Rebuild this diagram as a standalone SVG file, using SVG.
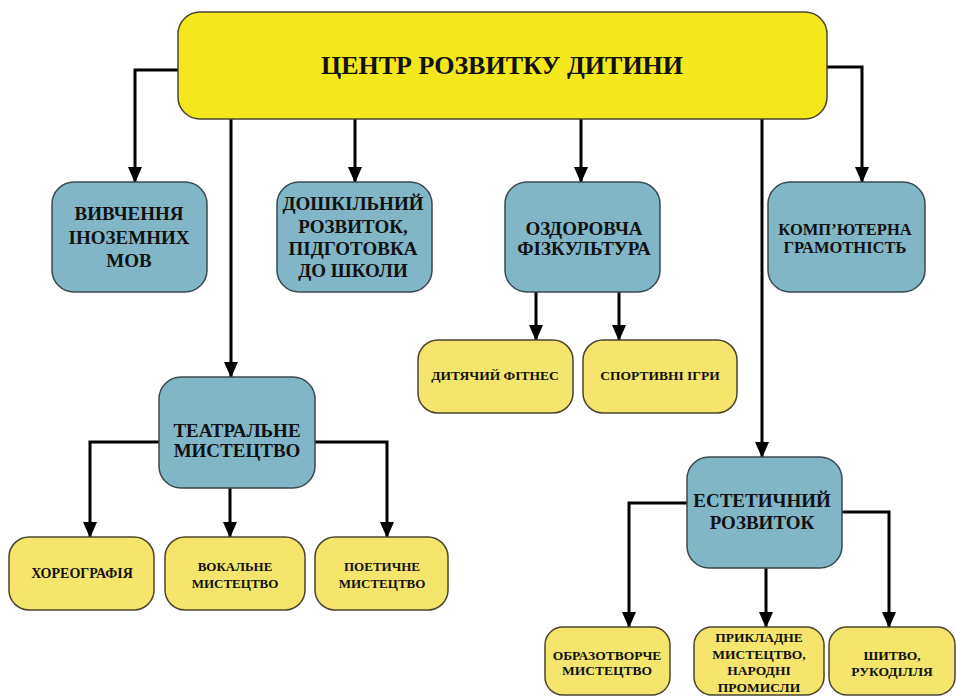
<svg xmlns="http://www.w3.org/2000/svg" width="956" height="697" viewBox="0 0 956 697">
<style>
.main{fill:#f4e81c;stroke:#4a4530;stroke-width:1.5}
.blue{fill:#80b6c6;stroke:#3a4a4e;stroke-width:1.5}
.yel{fill:#f6e56c;stroke:#4a4530;stroke-width:1.5}
text{font-family:'Liberation Serif','Times New Roman','DejaVu Serif',serif;font-weight:700;fill:#111;text-anchor:middle}
.t1{font-size:26px}
.t2{font-size:19px}
.t3{font-size:16.5px}
.t4{font-size:13px}
.t5{font-size:13.5px}
.t6{font-size:14px}
.con{fill:none;stroke:#000;stroke-width:3;marker-end:url(#ah)}
</style>
<defs>
<marker id="ah" viewBox="0 0 16 14" refX="15" refY="7" markerWidth="16" markerHeight="14" markerUnits="userSpaceOnUse" orient="auto">
<path d="M0,0 L16,7 L0,14 z" fill="#000"/>
</marker>
</defs>
<rect width="956" height="697" fill="#fff"/>
<g id="connectors">
<path class="con" d="M178,70 H135 V182"/>
<path class="con" d="M231,119 V377"/>
<path class="con" d="M355,119 V182"/>
<path class="con" d="M581,119 V182"/>
<path class="con" d="M762,119 V457"/>
<path class="con" d="M827,67 H862 V182"/>
<path class="con" d="M536,292 V340"/>
<path class="con" d="M619,292 V340"/>
<path class="con" d="M159,442 H90 V537"/>
<path class="con" d="M230,488 V537"/>
<path class="con" d="M315,442 H387 V537"/>
<path class="con" d="M687,503 H629 V627"/>
<path class="con" d="M766,568 V627"/>
<path class="con" d="M842,512 H889 V627"/>
</g>
<g id="center">
<rect class="main" x="178" y="12" width="649" height="107" rx="22"/>
<text class="t1" x="502" y="74">ЦЕНТР РОЗВИТКУ ДИТИНИ</text>
</g>
<g id="languages">
<rect class="blue" x="52" y="182" width="155" height="110" rx="22"/>
<text class="t2" x="129" y="219.5">ВИВЧЕННЯ</text>
<text class="t2" x="129" y="243.5">ІНОЗЕМНИХ</text>
<text class="t2" x="129" y="266.5">МОВ</text>
</g>
<g id="preschool">
<rect class="blue" x="277" y="182" width="155" height="110" rx="22"/>
<text class="t2" x="353" y="209.5">ДОШКІЛЬНИЙ</text>
<text class="t2" x="353" y="232.5">РОЗВИТОК,</text>
<text class="t2" x="353" y="254.5">ПІДГОТОВКА</text>
<text class="t2" x="353" y="276.5">ДО ШКОЛИ</text>
</g>
<g id="health">
<rect class="blue" x="505" y="182" width="155" height="110" rx="22"/>
<text class="t2" x="584" y="234.5">ОЗДОРОВЧА</text>
<text class="t2" x="584" y="255">ФІЗКУЛЬТУРА</text>
</g>
<g id="computer">
<rect class="blue" x="768" y="182" width="157" height="110" rx="22"/>
<text class="t3" x="845" y="234.5">КОМП’ЮТЕРНА</text>
<text class="t3" x="845" y="253">ГРАМОТНІСТЬ</text>
</g>
<g id="fitness">
<rect class="yel" x="418" y="340" width="155" height="73" rx="20"/>
<text class="t5" x="495" y="380">ДИТЯЧИЙ ФІТНЕС</text>
</g>
<g id="sportgames">
<rect class="yel" x="583" y="340" width="154" height="73" rx="20"/>
<text class="t5" x="660" y="380">СПОРТИВНІ ІГРИ</text>
</g>
<g id="theatre">
<rect class="blue" x="159" y="377" width="156" height="111" rx="22"/>
<text class="t2" x="237" y="437">ТЕАТРАЛЬНЕ</text>
<text class="t2" x="237" y="457">МИСТЕЦТВО</text>
</g>
<g id="choreography">
<rect class="yel" x="9" y="537" width="145" height="73" rx="20"/>
<text class="t6" x="82" y="578">ХОРЕОГРАФІЯ</text>
</g>
<g id="vocal">
<rect class="yel" x="165" y="537" width="140" height="73" rx="20"/>
<text class="t4" x="235" y="570.5">ВОКАЛЬНЕ</text>
<text class="t4" x="235" y="587.5">МИСТЕЦТВО</text>
</g>
<g id="poetry">
<rect class="yel" x="315" y="537" width="133" height="73" rx="20"/>
<text class="t4" x="382" y="570.5">ПОЕТИЧНЕ</text>
<text class="t4" x="382" y="587.5">МИСТЕЦТВО</text>
</g>
<g id="aesthetic">
<rect class="blue" x="687" y="457" width="155" height="111" rx="22"/>
<text class="t2" x="762" y="507">ЕСТЕТИЧНИЙ</text>
<text class="t2" x="762" y="529">РОЗВИТОК</text>
</g>
<g id="fineart">
<rect class="yel" x="545" y="627" width="125" height="68" rx="18"/>
<text class="t5" x="607" y="659.5">ОБРАЗОТВОРЧЕ</text>
<text class="t5" x="607" y="675">МИСТЕЦТВО</text>
</g>
<g id="applied">
<rect class="yel" x="694" y="627" width="130" height="68" rx="18"/>
<text class="t5" x="759" y="641.5">ПРИКЛАДНЕ</text>
<text class="t5" x="759" y="658.5">МИСТЕЦТВО,</text>
<text class="t5" x="759" y="675">НАРОДНІ</text>
<text class="t5" x="759" y="691.5">ПРОМИСЛИ</text>
</g>
<g id="sewing">
<rect class="yel" x="829" y="627" width="126" height="68" rx="18"/>
<text class="t5" x="892" y="659.5">ШИТВО,</text>
<text class="t5" x="892" y="675.5">РУКОДІЛЛЯ</text>
</g>
</svg>
